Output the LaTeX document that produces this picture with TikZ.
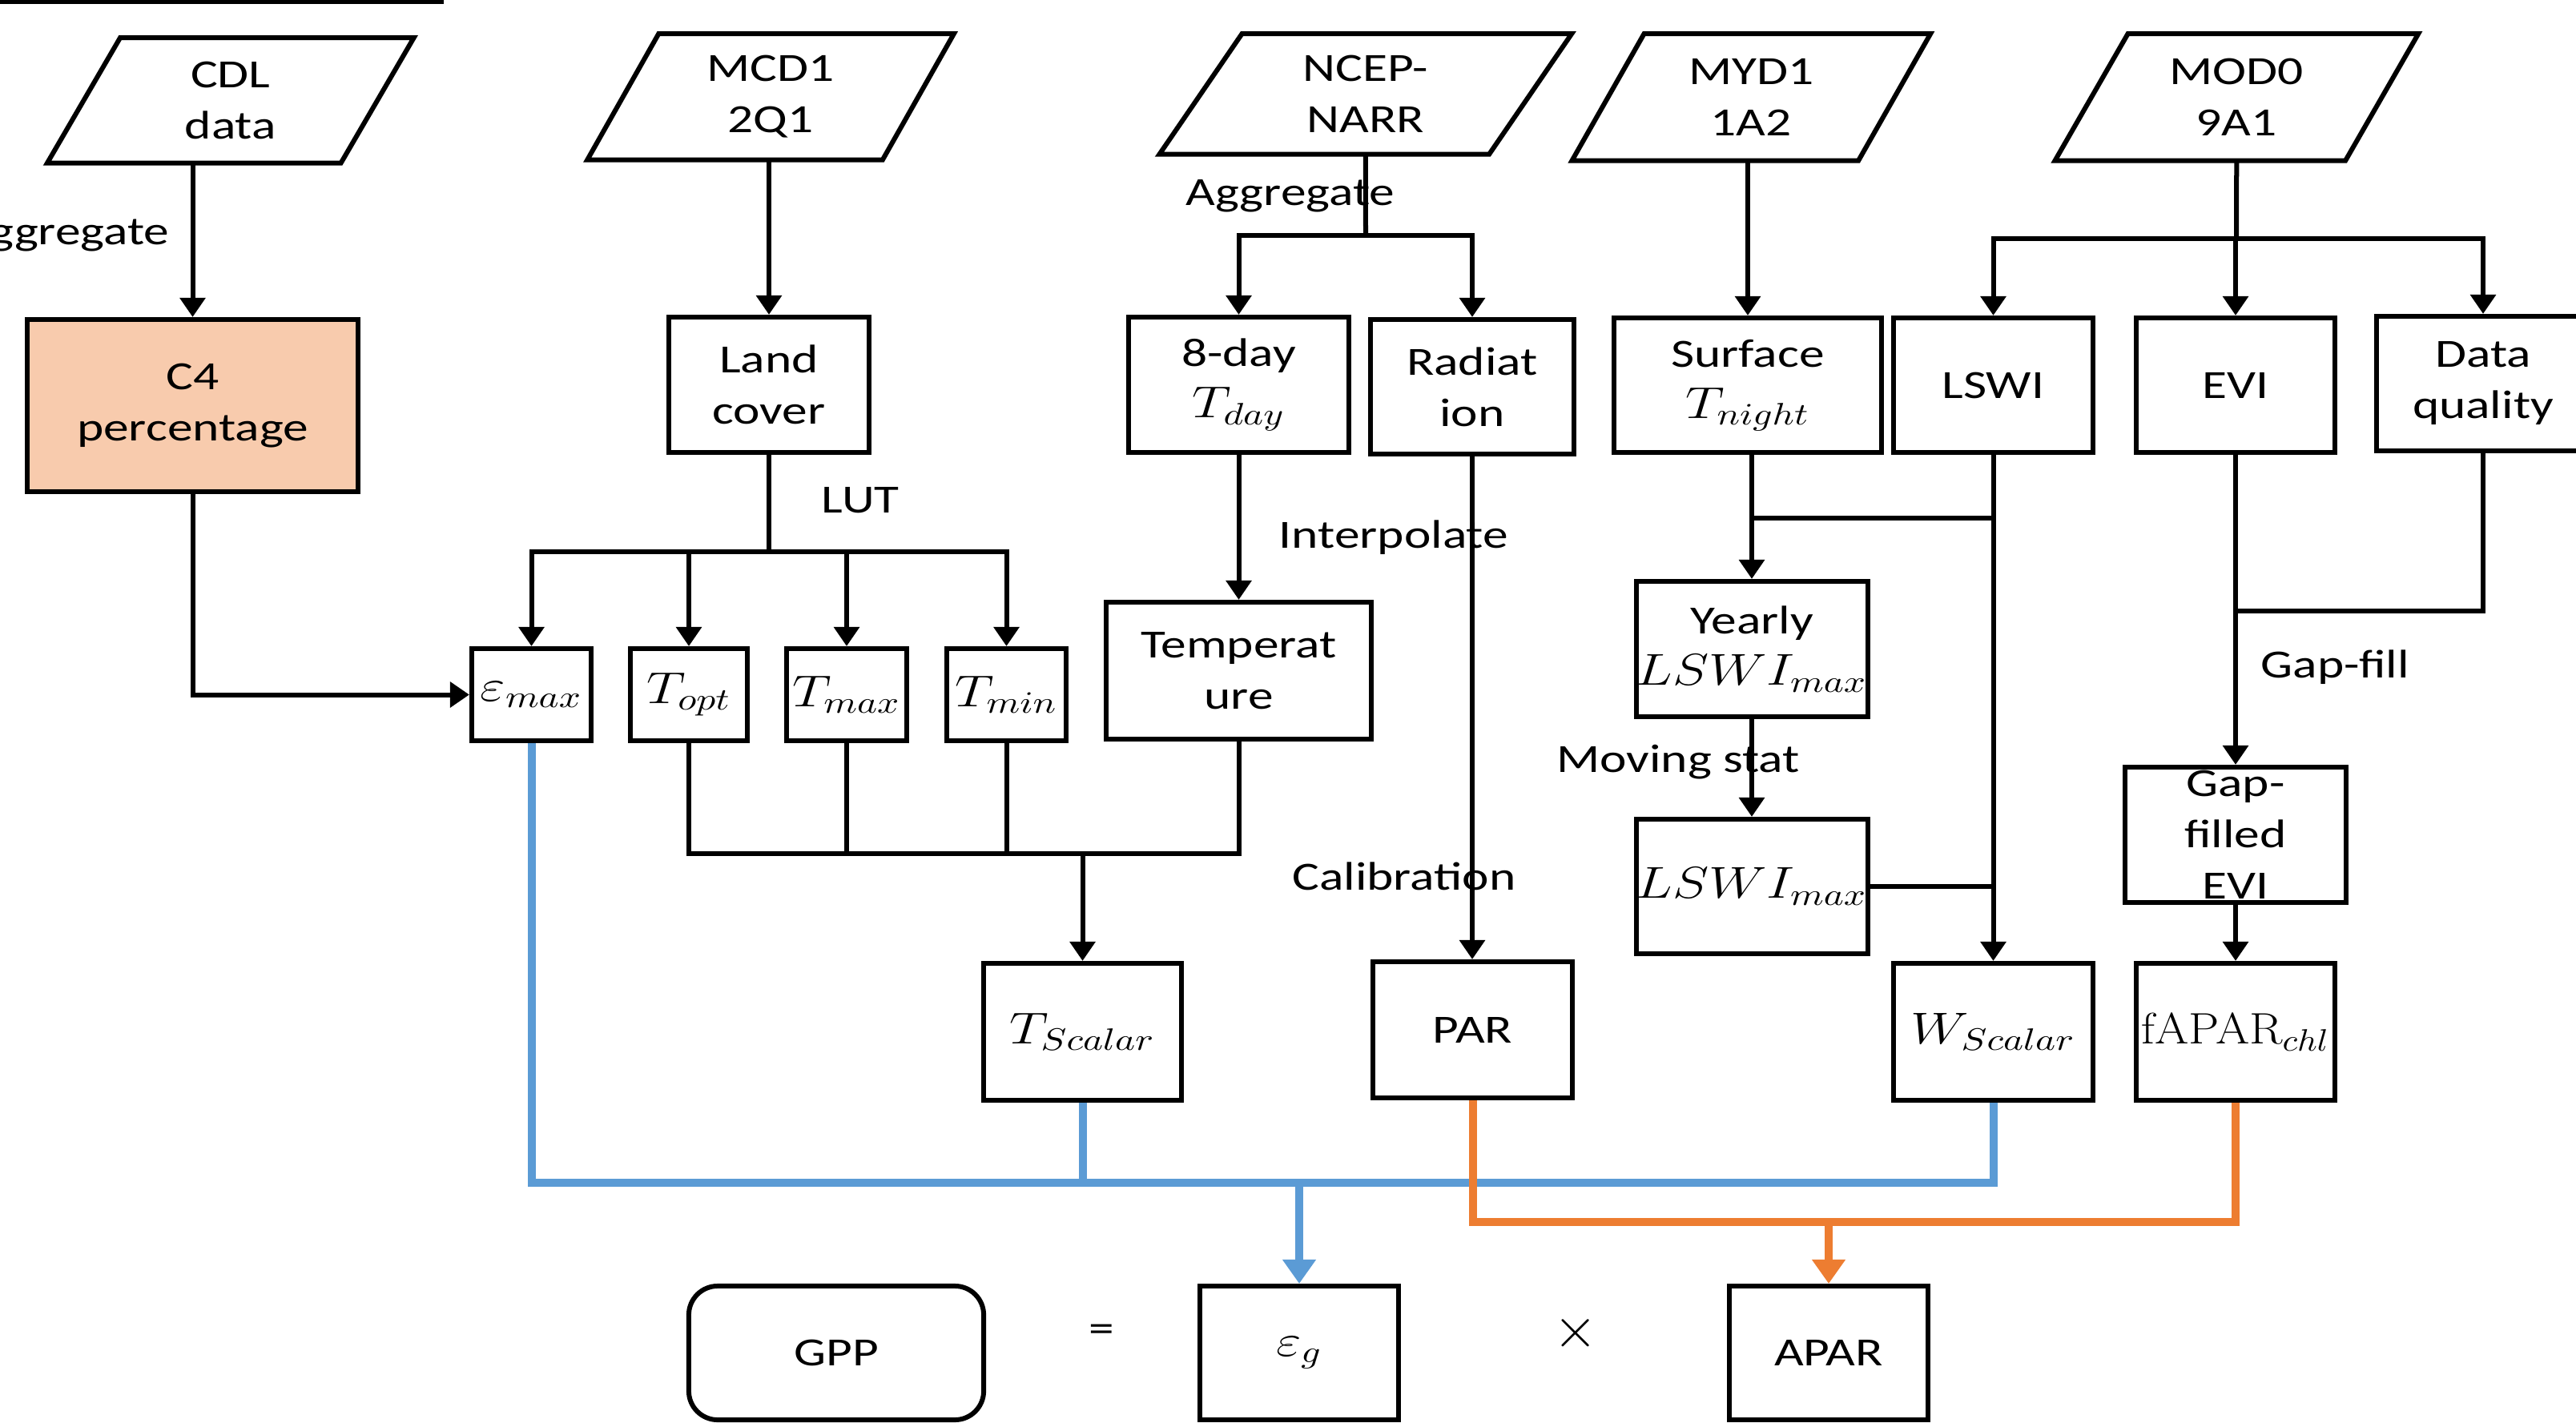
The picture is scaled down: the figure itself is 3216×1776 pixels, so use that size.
\documentclass[tikz,border=0pt]{standalone}
\usepackage{fontspec}
\setmainfont{Carlito}[FakeStretch=1.27]
\newfontfamily\lmrm{Latin Modern Roman}
\usepackage{graphicx}
\usetikzlibrary{arrows.meta,calc}
\definecolor{peach}{HTML}{F8CBAD}
\definecolor{lblue}{HTML}{5B9BD5}
\definecolor{orng}{HTML}{ED7D31}
\newcommand{\mth}[1]{\scalebox{1.35}[1.1]{$#1$}}
\newcommand{\paral}[7]{%
  \node[ptext, minimum width=#4, minimum height=#5] (#1) at (#2,#3) {#7};
  \draw[line width=0.06cm, line join=miter] ([xshift=#6]#1.north west) -- ([xshift=#6]#1.north east) -- ([xshift=-#6]#1.south east) -- ([xshift=-#6]#1.south west) -- cycle;}
\begin{document}
\begin{tikzpicture}[x=0.01cm,y=-0.01cm,
  every node/.style={font=\fontsize{14.2pt}{18.2pt}\selectfont, align=center},
  box/.style={draw, line width=0.06cm, inner sep=0pt},
  ptext/.style={inner sep=0pt},
  lbl/.style={inner sep=0pt},
  conn/.style={line width=0.06cm},
  arr/.style={conn, -{Triangle[length=0.24cm,width=0.31cm]}},
  bluel/.style={line width=0.1cm, color=lblue},
  orl/.style={line width=0.1cm, color=orng},
  bigtip/.style={-{Triangle[length=0.3cm,width=0.4cm]}},
]
\useasboundingbox (0,0) rectangle (3216,1776);
\fill (0,0) rectangle (554,5);

% input parallelograms
\paral{cdl}{287.75}{125.5}{3.65cm}{1.55cm}{0.455cm}{CDL\\data}
\paral{mcd}{962}{121}{3.67cm}{1.56cm}{0.445cm}{MCD1\\2Q1}
\paral{ncep}{1704.75}{117.5}{4.10cm}{1.49cm}{0.515cm}{NCEP-\\NARR}
\paral{myd}{2186.25}{121.5}{3.56cm}{1.57cm}{0.45cm}{MYD1\\1A2}
\paral{mod}{2792.25}{121.5}{3.61cm}{1.57cm}{0.455cm}{MOD0\\9A1}

% boxes
\node[box, fill=peach, minimum width=4.13cm, minimum height=2.15cm] (c4) at (240.5,506.5) {C4\\percentage};
\node[box, minimum width=2.5cm, minimum height=1.69cm] (land) at (960,480.5) {Land\\cover};
\node[box, minimum width=2.75cm, minimum height=1.69cm] (day) at (1546.5,480.5) {8-day\\\mth{T_{day}}};
\node[box, minimum width=2.54cm, minimum height=1.68cm] (rad) at (1838,483) {Radiat\\ion};
\node[box, minimum width=3.34cm, minimum height=1.68cm] (surf) at (2182,481) {Surface\\\mth{T_{night}}};
\node[box, minimum width=2.49cm, minimum height=1.68cm] (lswi) at (2488.5,481) {LSWI};
\node[box, minimum width=2.48cm, minimum height=1.68cm] (evi) at (2791,481) {EVI};
\node[box, minimum width=2.66cm, minimum height=1.68cm] (dq) at (3100,479) {Data\\quality};

\node[box, minimum width=1.49cm, minimum height=1.15cm] (emax) at (663.5,867.5) {\mth{\varepsilon_{max}}};
\node[box, minimum width=1.46cm, minimum height=1.15cm] (topt) at (860,867.5) {\mth{T_{opt}}};
\node[box, minimum width=1.50cm, minimum height=1.15cm] (tmax) at (1057,867.5) {\mth{T_{max}}};
\node[box, minimum width=1.49cm, minimum height=1.15cm] (tmin) at (1256.5,867.5) {\mth{T_{min}}};
\node[box, minimum width=3.31cm, minimum height=1.71cm] (temp) at (1546.5,837.5) {Temperat\\ure};
\node[box, minimum width=2.5cm, minimum height=1.69cm] (yearly) at (2187,810.5) {Yearly\\\mth{LSWI_{max}}};
\node[box, minimum width=2.5cm, minimum height=1.68cm] (lmax) at (2187,1107) {\mth{LSWI_{max}}};
\node[box, minimum width=2.76cm, minimum height=1.69cm] (gap) at (2791,1042.5) {Gap-\\filled\\EVI};

\node[box, minimum width=2.47cm, minimum height=1.71cm] (tsc) at (1351.5,1288.5) {\mth{T_{Scalar}}};
\node[box, minimum width=2.49cm, minimum height=1.70cm] (par) at (1838.5,1286) {PAR};
\node[box, minimum width=2.49cm, minimum height=1.71cm] (wsc) at (2488.5,1288.5) {\mth{W_{Scalar}}};
\node[box, minimum width=2.48cm, minimum height=1.71cm] (fap) at (2791,1288.5) {\scalebox{1.22}[1.1]{{\lmrm fAPAR}$_{chl}$}};

\node[box, rounded corners=0.36cm, minimum width=3.68cm, minimum height=1.67cm] (gpp) at (1044,1689.5) {GPP};
\node[box, minimum width=2.48cm, minimum height=1.67cm] (eg) at (1622,1689.5) {\mth{\varepsilon_{g}}};
\node[box, minimum width=2.48cm, minimum height=1.67cm] (apar) at (2283,1689.5) {APAR};
\node[lbl] (eq) at (1375,1665) {=};
\node[lbl] (times) at (1967,1665) {\scalebox{1.4}{$\times$}};

% labels
\node[lbl, anchor=east] (aggA) at (212,294) {Aggregate};
\node[lbl] (aggB) at (1611,245) {Aggregate};
\node[lbl, anchor=west] (lut) at (1025,625) {LUT};
\node[lbl] (interp) at (1740,671) {Interpolate};
\node[lbl] (calib) at (1753,1094) {Calibration};
\node[lbl] (moving) at (2095,952) {Moving stat};
\node[lbl, anchor=west] (gapfill) at (2822,833) {Gap-fill};

% black connectors
\draw[arr] (cdl.south -| c4.north) -- (c4.north);
\draw[arr] (mcd.south -| land.north) -- (land.north);
\coordinate (lj) at (960,689);
\draw[conn] (land.south) -- (lj);
\draw[arr] (lj) -| (emax.north);
\draw[arr] (lj) -| (topt.north);
\draw[arr] (lj) -| (tmax.north);
\draw[arr] (lj) -| (tmin.north);
\draw[arr] (c4.south) |- (emax.west);

\coordinate (nj) at (1705,294);
\draw[conn] (ncep.south) -- (nj);
\draw[arr] (nj) -| (day.north);
\draw[arr] (nj) -| (rad.north);
\draw[arr] (day.south) -- (temp.north);
\draw[arr] (rad.south) -- (rad.south |- par.north);

\coordinate (tj) at (1351.5,1066);
\draw[conn] (topt.south) |- (temp.south |- tj) -- (temp.south);
\draw[conn] (tmax.south) -- (tmax.south |- tj);
\draw[conn] (tmin.south) -- (tmin.south |- tj);
\draw[arr] (tj) -- (tsc.north);

\draw[arr] (surf.north |- myd.south) -- (surf.north);
\coordinate (mj) at (2792,298);
\draw[conn] (mod.south) -- (mj);
\draw[arr] (mj) -| (lswi.north);
\draw[arr] (mj) -| (dq.north);
\draw[arr] (mj) -- (mj -| evi.north) -- (evi.north);

\coordinate (sj) at (2187,647);
\draw[conn] (surf.south -| sj) -- (sj) -- (sj -| lswi.south);
\draw[arr] (sj) -- (yearly.north);
\draw[arr] (lswi.south) -- (wsc.north);
\draw[arr] (yearly.south) -- (lmax.north);
\draw[conn] (lmax.east) -- (lmax.east -| lswi.south);

\coordinate (ej) at (2791,763);
\draw[conn] (dq.south) |- (ej);
\draw[arr] (evi.south) -- (gap.north);
\draw[arr] (gap.south) -- (fap.north);

% blue
\coordinate (bj) at (1622,1477);
\draw[bluel] (emax.south) |- (wsc.south |- bj) -- (wsc.south);
\draw[bluel] (tsc.south) -- (tsc.south |- bj);
\draw[bluel, bigtip] (bj) -- (eg.north);

% orange
\coordinate (oj) at (2283,1526);
\draw[orl] (par.south) |- (fap.south |- oj) -- (fap.south);
\draw[orl, bigtip] (oj) -- (apar.north);
\end{tikzpicture}
\end{document}
